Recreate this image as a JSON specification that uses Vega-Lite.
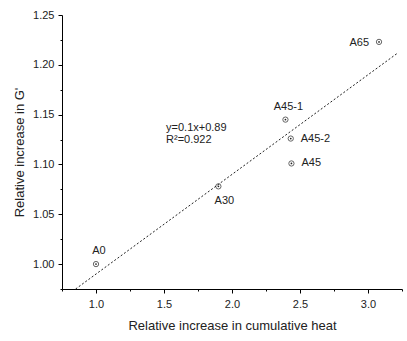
{
  "$schema": "https://vega.github.io/schema/vega-lite/v6.json",
  "autosize": "none",
  "width": 340,
  "height": 274,
  "padding": {"left": 62, "top": 15, "right": 5, "bottom": 52},
  "background": "white",
  "config": {
    "view": {"stroke": null},
    "font": "Liberation Sans",
    "axis": {
      "domainColor": "#000",
      "tickColor": "#000",
      "labelColor": "#222",
      "titleColor": "#222",
      "labelFont": "Liberation Sans",
      "titleFont": "Liberation Sans",
      "labelFontSize": 11,
      "titleFontSize": 13,
      "titleFontWeight": "normal",
      "grid": false
    }
  },
  "datasets": {
    "pts": [
      {"name": "A0", "x": 1.0, "y": 1.0},
      {"name": "A30", "x": 1.9, "y": 1.078},
      {"name": "A45-1", "x": 2.393, "y": 1.145},
      {"name": "A45-2", "x": 2.432, "y": 1.126},
      {"name": "A45", "x": 2.437, "y": 1.101},
      {"name": "A65", "x": 3.081, "y": 1.223}
    ],
    "fit": [
      {"x": 0.85, "y": 0.975},
      {"x": 3.22, "y": 1.212}
    ],
    "notes": [
      {"x": 1.515, "y": 1.1365, "text": "y=0.1x+0.89"},
      {"x": 1.515, "y": 1.1245, "text": "R²=0.922"}
    ]
  },
  "resolve": {"axis": {"x": "independent", "y": "independent"}},
  "layer": [
    {
      "data": {"name": "fit"},
      "mark": {"type": "line", "color": "#222", "strokeWidth": 1, "strokeDash": [2, 2]},
      "encoding": {
        "x": {
          "field": "x", "type": "quantitative",
          "scale": {"domain": [0.75, 3.25], "nice": false, "zero": false},
          "axis": {
            "orient": "bottom",
            "title": "Relative increase in cumulative heat",
            "values": [1, 1.5, 2, 2.5, 3],
            "format": ".1f",
            "tickSize": 4,
            "labelPadding": 5,
            "titlePadding": 10,
            "labelFlush": false
          }
        },
        "y": {
          "field": "y", "type": "quantitative",
          "scale": {"domain": [0.975, 1.25], "nice": false, "zero": false},
          "axis": {
            "orient": "left",
            "title": "Relative increase in G'",
            "values": [1.0, 1.05, 1.1, 1.15, 1.2, 1.25],
            "format": ".2f",
            "tickSize": 4,
            "labelPadding": 4,
            "titlePadding": 6,
            "labelFlush": false
          }
        }
      }
    },
    {
      "data": {"name": "pts"},
      "mark": {"type": "point", "shape": "circle", "filled": false, "stroke": "#222", "strokeWidth": 1, "size": 28},
      "encoding": {
        "x": {
          "field": "x", "type": "quantitative",
          "axis": {"orient": "bottom", "title": null, "labels": false, "domain": false, "tickSize": 2, "values": [0.75, 1.25, 1.75, 2.25, 2.75, 3.25]}
        },
        "y": {
          "field": "y", "type": "quantitative",
          "axis": {"orient": "left", "title": null, "labels": false, "domain": false, "tickSize": 2, "values": [0.975, 1.025, 1.075, 1.125, 1.175, 1.225]}
        }
      }
    },
    {
      "data": {"name": "pts"},
      "mark": {"type": "point", "shape": "circle", "filled": true, "color": "#222", "size": 3, "opacity": 1},
      "encoding": {
        "x": {"field": "x", "type": "quantitative", "axis": null},
        "y": {"field": "y", "type": "quantitative", "axis": null}
      }
    },
    {
      "data": {"name": "pts"},
      "transform": [{"filter": "datum.name == 'A0' || datum.name == 'A45-1'"}],
      "mark": {"type": "text", "align": "center", "baseline": "bottom", "dx": 3, "dy": -8, "fontSize": 11, "color": "#222"},
      "encoding": {
        "x": {"field": "x", "type": "quantitative", "axis": null},
        "y": {"field": "y", "type": "quantitative", "axis": null},
        "text": {"field": "name"}
      }
    },
    {
      "data": {"name": "pts"},
      "transform": [{"filter": "datum.name == 'A30'"}],
      "mark": {"type": "text", "align": "center", "baseline": "top", "dx": 6, "dy": 9, "fontSize": 11, "color": "#222"},
      "encoding": {
        "x": {"field": "x", "type": "quantitative", "axis": null},
        "y": {"field": "y", "type": "quantitative", "axis": null},
        "text": {"field": "name"}
      }
    },
    {
      "data": {"name": "pts"},
      "transform": [{"filter": "datum.name == 'A45-2' || datum.name == 'A45'"}],
      "mark": {"type": "text", "align": "left", "baseline": "middle", "dx": 10, "fontSize": 11, "color": "#222"},
      "encoding": {
        "x": {"field": "x", "type": "quantitative", "axis": null},
        "y": {"field": "y", "type": "quantitative", "axis": null},
        "text": {"field": "name"}
      }
    },
    {
      "data": {"name": "pts"},
      "transform": [{"filter": "datum.name == 'A65'"}],
      "mark": {"type": "text", "align": "right", "baseline": "middle", "dx": -10, "dy": 1, "fontSize": 11, "color": "#222"},
      "encoding": {
        "x": {"field": "x", "type": "quantitative", "axis": null},
        "y": {"field": "y", "type": "quantitative", "axis": null},
        "text": {"field": "name"}
      }
    },
    {
      "data": {"name": "notes"},
      "mark": {"type": "text", "align": "left", "baseline": "middle", "fontSize": 11, "color": "#222"},
      "encoding": {
        "x": {"field": "x", "type": "quantitative", "axis": null},
        "y": {"field": "y", "type": "quantitative", "axis": null},
        "text": {"field": "text"}
      }
    }
  ]
}
